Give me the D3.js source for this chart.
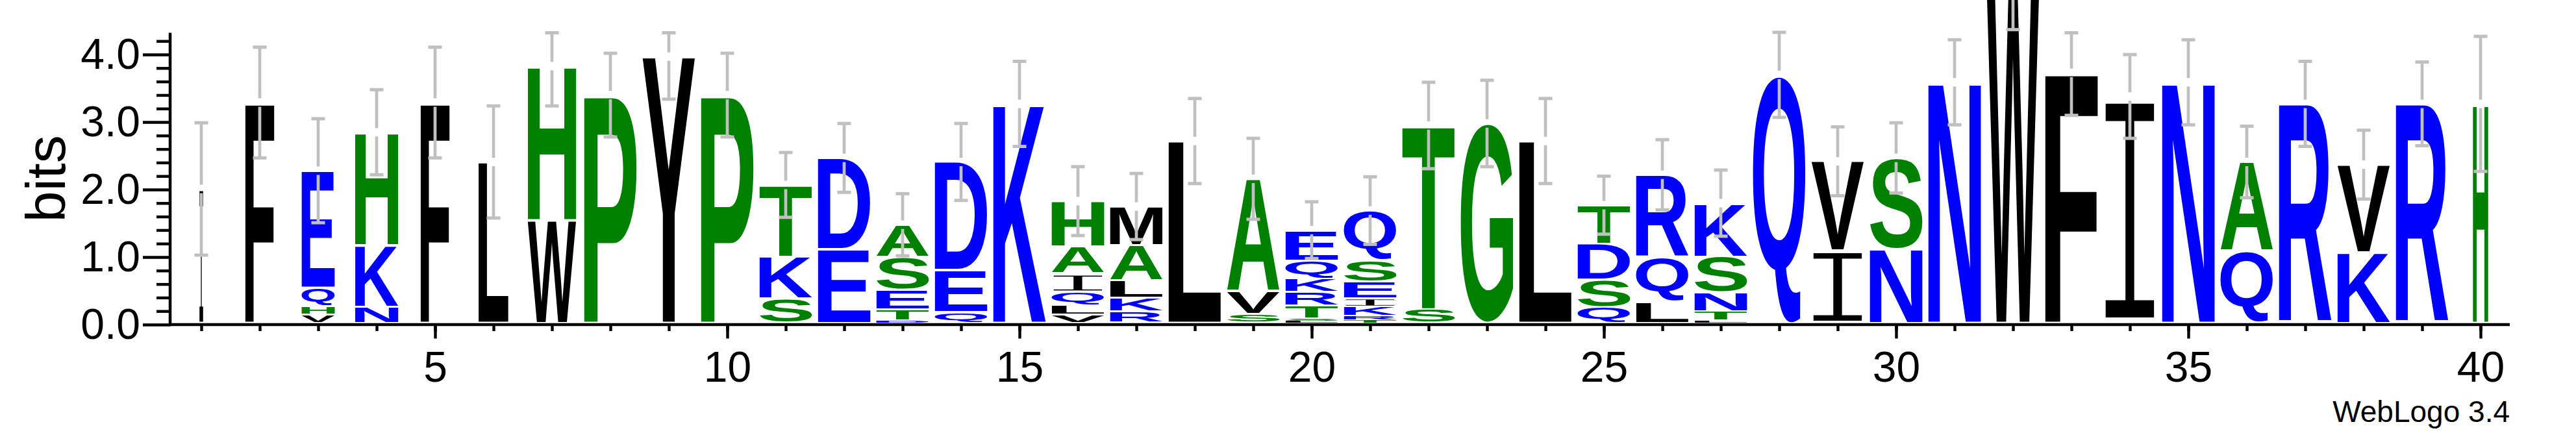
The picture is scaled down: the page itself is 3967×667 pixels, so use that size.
<!DOCTYPE html>
<html><head><meta charset="utf-8">
<script src="https://cdn.jsdelivr.net/npm/d3@7"></script>
<style>html,body{margin:0;padding:0;background:#fff;} svg{display:block;}</style>
</head><body>
<svg id="chart" width="3967" height="667"></svg>
<script>
// ---- data (letters listed bottom -> top, heights in bits) ----
const positions = d3.range(1, 41);
const stackLetters = ["I","F","VHQE","NKH","F","L","WH","P","Y","P",
  "SKT","ED","DTESA","QED","K","VLQIAH","RKLAM","L","SVA","LSTRKQE",
  "TRKIESQ","ST","G","L","QSDT","LQR","LTNSK","Q","IV","NS",
  "N","W","F","I","N","QA","R","KV","R","H"];
const stackHeights = [[1.98],[3.26],[0.12,0.13,0.27,1.73],[0.24,0.91,1.67],[3.26],[2.38],[1.52,2.28],[3.37],[3.94],[3.37],
  [0.36,0.62,1.06],[1.09,1.35],[0.03,0.17,0.29,0.48,0.48],[0.16,0.62,1.60],[3.24],[0.12,0.13,0.21,0.27,0.40,0.67],[0.17,0.20,0.26,0.52,0.57],[2.69],[0.13,0.33,1.67],[0.025,0.035,0.19,0.205,0.205,0.26,0.45],
  [0.04,0.06,0.14,0.12,0.25,0.32,0.73],[0.20,2.72],[2.95],[2.69],[0.23,0.41,0.53,0.57],[0.31,0.66,1.22],[0.03,0.14,0.28,0.53,0.79],[3.67],[1.07,1.32],[1.09,1.35],
  [3.56],[4.97],[3.70],[3.35],[3.56],[1.06,1.32],[3.24],[1.04,1.30],[3.24],[3.24]];
const stackWeights = [0.07,0.55,0.63,0.82,0.55,0.57,0.92,1,1,1,
  1,1,1,1,1,1,1,1,1,1,
  1,1,1,1,1,1,1,1,1,1,
  1,1,1,1,1,1,1,1,1,0.29];
const errorHalf = [0.98,0.82,0.77,0.63,0.82,0.83,0.59,0.62,0.63,0.62,
  0.48,0.51,0.46,0.57,0.63,0.51,0.49,0.63,0.60,0.42,
  0.50,0.64,0.64,0.63,0.43,0.52,0.49,0.63,0.51,0.52,
  0.63,0.63,0.63,0.62,0.63,0.53,0.63,0.51,0.62,1.00];
const yMajorTicks = [0, 1, 2, 3, 4];
const yMajorLabels = ["0.0", "1.0", "2.0", "3.0", "4.0"];
const yMinorTicks = [0.2,0.4,0.6,0.8,1.2,1.4,1.6,1.8,2.2,2.4,2.6,2.8,3.2,3.4,3.6,3.8,4.2];
const xLabelTicks = [5, 10, 15, 20, 25, 30, 35, 40];
const yMax = Math.log2(20);
const colorGroups = [
  {letters: "RKDENQ", color: "#0000ff"},
  {letters: "SGHTAP", color: "#008000"},
  {letters: "YVMCLFIW", color: "#000000"}
];

// ---- layout ----
const svg = d3.select("#chart");
const x = d3.scaleLinear().domain([1, 40]).range([310, 3820]);
const y = d3.scaleLinear().domain([0, yMax]).range([500, 500 - yMax * 104]);
const stackFull = 81;      // px width of a full-weight stack
const stackLift = 3;       // stacks sit just above the axis line
const yL = v => y(v) - stackLift;
const FONT = "'Liberation Sans', Arial, Helvetica, sans-serif";
const AXIS_W = 4.5;

function colorOf(ch) {
  const g = colorGroups.find(g => g.letters.includes(ch));
  return g ? g.color : "#000";
}

// glyph tight bounds via canvas
const ctx = document.createElement("canvas").getContext("2d");
const GS = 200;
function glyphFont(ch) {
  return ch === "I" ? {fam: "'Liberation Mono', 'DejaVu Sans Mono', monospace", w: "normal"}
                    : {fam: FONT, w: "bold"};
}
const boxCache = {};
function glyphBox(ch) {
  if (boxCache[ch]) return boxCache[ch];
  const f = glyphFont(ch);
  ctx.font = `${f.w} ${GS}px ${f.fam}`;
  const m = ctx.measureText(ch);
  const b = {l: -m.actualBoundingBoxLeft, r: m.actualBoundingBoxRight,
             t: -m.actualBoundingBoxAscent, b: m.actualBoundingBoxDescent};
  boxCache[ch] = b;
  return b;
}

// ---- stacks ----
const stacks = positions.map((p, i) => {
  let cum = 0;
  const items = stackLetters[i].split("").map((ch, j) => {
    const h = stackHeights[i][j];
    const it = {ch, lo: cum, hi: cum + h};
    cum += h;
    return it;
  });
  return {p, items, total: cum, w: stackWeights[i] * stackFull, err: errorHalf[i]};
});

const gLetters = svg.append("g").attr("class", "letters");
stacks.forEach(s => {
  s.items.forEach(it => {
    const top = yL(it.hi), bot = yL(it.lo);
    const hpx = bot - top;
    const inset = Math.min(1.5, hpx * 0.1);
    const x0 = x(s.p) - s.w / 2;
    const y0 = top + inset;
    const hh = hpx - 2 * inset;
    const bx = glyphBox(it.ch);
    const sx = s.w / (bx.r - bx.l), sy = hh / (bx.b - bx.t);
    const f = glyphFont(it.ch);
    const t = gLetters.append("text")
      .attr("x", 0).attr("y", 0)
      .attr("font-family", f.fam)
      .attr("font-weight", f.w)
      .attr("font-size", GS)
      .attr("fill", colorOf(it.ch))
      .attr("transform", `translate(${x0},${y0}) scale(${sx},${sy}) translate(${-bx.l},${-bx.t})`)
      .text(it.ch);
    if (it.ch === "I" && s.w > 20) {
      // thin the serif I towards the lighter WebLogo glyph
      t.attr("stroke", "#fff").attr("stroke-width", 5);
    }
  });
});

// ---- error bars ----
const gErr = svg.append("g").attr("class", "errorbars")
  .attr("stroke", "#c0c0c0").attr("fill", "none");
const GAP = 6.5, CAP = 21;
stacks.forEach(s => {
  const c = s.total;
  const hiV = c < yMax ? Math.min(c + s.err, yMax) : c + s.err;
  const loV = c - s.err;
  const cx = x(s.p);
  const yc = yL(c);
  const yTop = c < yMax && hiV >= yMax ? y(yMax) : yL(hiV);
  const yBot = yL(loV);
  gErr.append("line").attr("x1", cx).attr("x2", cx).attr("y1", yc - GAP).attr("y2", yTop).attr("stroke-width", 4.7);
  gErr.append("line").attr("x1", cx - CAP / 2).attr("x2", cx + CAP / 2).attr("y1", yTop).attr("y2", yTop).attr("stroke-width", 5);
  gErr.append("line").attr("x1", cx).attr("x2", cx).attr("y1", yc + GAP).attr("y2", yBot).attr("stroke-width", 4.7);
  gErr.append("line").attr("x1", cx - CAP / 2).attr("x2", cx + CAP / 2).attr("y1", yBot).attr("y2", yBot).attr("stroke-width", 5);
});

// ---- axes ----
const axisX0 = x(0.5) - 3;   // y-axis position
const gAxes = svg.append("g").attr("class", "axes");

const yMinorAxis = d3.axisLeft(y).tickValues(yMinorTicks).tickSize(21).tickFormat("").tickSizeOuter(0);
gAxes.append("g").attr("transform", `translate(${axisX0},0)`).call(yMinorAxis);
const yMajorAxis = d3.axisLeft(y).tickValues(yMajorTicks).tickSize(42).tickPadding(4)
  .tickFormat((d, i) => yMajorLabels[i]).tickSizeOuter(0);
gAxes.append("g").attr("transform", `translate(${axisX0},0)`).call(yMajorAxis);

const xMinorAxis = d3.axisBottom(x).tickValues(positions).tickSize(10).tickFormat("").tickSizeOuter(0);
gAxes.append("g").attr("transform", `translate(0,${y(0)})`).call(xMinorAxis);
const xMajorAxis = d3.axisBottom(x).tickValues(xLabelTicks).tickSize(21.5).tickPadding(20)
  .tickFormat(d3.format("d")).tickSizeOuter(0);
gAxes.append("g").attr("transform", `translate(0,${y(0)})`).call(xMajorAxis);

gAxes.selectAll(".domain").remove();
gAxes.selectAll(".tick line").attr("stroke", "#000").attr("stroke-width", 4.4);
gAxes.selectAll(".tick text").attr("font-family", FONT).attr("font-size", 66).attr("fill", "#000");

gAxes.append("line").attr("x1", axisX0).attr("x2", axisX0)
  .attr("y1", y(0) + AXIS_W / 2).attr("y2", y(yMax))
  .attr("stroke", "#000").attr("stroke-width", AXIS_W);
gAxes.append("line").attr("x1", axisX0).attr("x2", x(40.5))
  .attr("y1", y(0)).attr("y2", y(0))
  .attr("stroke", "#000").attr("stroke-width", AXIS_W);

svg.append("text")
  .attr("transform", `translate(100,${(y(0) + y(yMax)) / 2}) rotate(-90)`)
  .attr("text-anchor", "middle")
  .attr("font-family", FONT).attr("font-size", 86).attr("fill", "#000")
  .text("bits");

svg.append("text")
  .attr("x", x(40.5)).attr("y", 650)
  .attr("text-anchor", "end")
  .attr("font-family", FONT).attr("font-size", 46).attr("fill", "#000")
  .text("WebLogo 3.4");
</script>
</body></html>
